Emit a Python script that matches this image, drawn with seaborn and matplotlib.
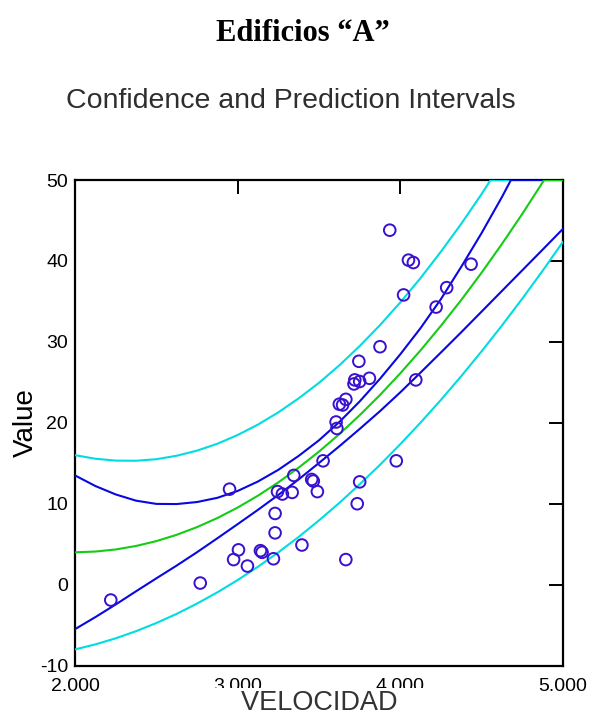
import matplotlib
matplotlib.use("Agg")
import matplotlib.pyplot as plt
import seaborn as sns
from matplotlib.ticker import FixedLocator, FuncFormatter

# ---- data ----
vel = [2.22, 2.77, 2.95, 2.975, 3.005, 3.06, 3.14, 3.15, 3.22, 3.23, 3.23, 3.245,
       3.275, 3.335, 3.345, 3.395, 3.455, 3.465, 3.49, 3.525, 3.605, 3.61, 3.625,
       3.645, 3.665, 3.665, 3.72, 3.715, 3.75, 3.745, 3.735, 3.75, 3.81, 3.875,
       3.935, 3.975, 4.02, 4.05, 4.08, 4.095, 4.22, 4.285, 4.435]
value = [-1.9, 0.2, 11.8, 3.1, 4.3, 2.3, 4.2, 4.0, 3.2, 8.8, 6.4, 11.5,
         11.2, 11.4, 13.5, 4.9, 13.0, 12.8, 11.5, 15.3, 20.1, 19.3, 22.3,
         22.2, 22.9, 3.1, 25.3, 24.8, 25.1, 27.6, 10.0, 12.7, 25.5, 29.4,
         43.8, 15.3, 35.8, 40.1, 39.8, 25.3, 34.3, 36.7, 39.6]

# fitted curve (green), clipped at the top of the frame
fit_x = [2.0, 2.125, 2.25, 2.375, 2.5, 2.625, 2.75, 2.875, 3.0, 3.125, 3.25, 3.375,
         3.5, 3.625, 3.75, 3.875, 4.0, 4.125, 4.25, 4.375, 4.5, 4.625, 4.75, 4.884, 5.0]
fit_y = [4.00, 4.09, 4.35, 4.78, 5.38, 6.16, 7.11, 8.23, 9.53, 11.00, 12.64, 14.46,
         16.44, 18.60, 20.94, 23.44, 26.12, 28.97, 32.00, 35.19, 38.56, 42.11, 45.82, 50.0, 50.0]

# confidence limits (blue)
conf_up_x = [2.0, 2.125, 2.25, 2.375, 2.5, 2.625, 2.75, 2.875, 3.0, 3.125, 3.25, 3.375,
             3.5, 3.625, 3.75, 3.875, 4.0, 4.125, 4.25, 4.375, 4.5, 4.625, 4.68, 5.0]
conf_up_y = [13.50, 12.19, 11.15, 10.38, 9.98, 9.96, 10.21, 10.73, 11.58, 12.75, 14.19, 15.91,
             17.84, 20.10, 22.64, 25.44, 28.47, 31.72, 35.30, 39.29, 43.46, 47.91, 50.0, 50.0]
conf_lo_x = [2.0, 2.125, 2.25, 2.375, 2.5, 2.625, 2.75, 2.875, 3.0, 3.125, 3.25, 3.375,
             3.5, 3.625, 3.75, 3.875, 4.0, 4.125, 4.25, 4.375, 4.5, 4.625, 4.75, 4.875, 5.0]
conf_lo_y = [-5.50, -4.01, -2.45, -0.82, 0.78, 2.36, 4.01, 5.73, 7.48, 9.25, 11.09, 13.01,
             15.04, 17.10, 19.24, 21.44, 23.77, 26.22, 28.70, 31.20, 33.75, 36.30, 38.85, 41.40, 43.97]

# prediction limits (cyan)
pred_up_x = [2.0, 2.125, 2.25, 2.375, 2.5, 2.625, 2.75, 2.875, 3.0, 3.125, 3.25, 3.375,
             3.5, 3.625, 3.75, 3.875, 4.0, 4.125, 4.25, 4.375, 4.5, 4.555, 5.0]
pred_up_y = [16.00, 15.56, 15.33, 15.31, 15.50, 15.93, 16.56, 17.41, 18.49, 19.78, 21.29, 23.02,
             24.94, 27.10, 29.48, 32.07, 34.88, 37.90, 41.16, 44.60, 48.28, 50.0, 50.0]
pred_lo_x = [2.0, 2.125, 2.25, 2.375, 2.5, 2.625, 2.75, 2.875, 3.0, 3.125, 3.25, 3.375,
             3.5, 3.625, 3.75, 3.875, 4.0, 4.125, 4.25, 4.375, 4.5, 4.625, 4.75, 4.875, 5.0]
pred_lo_y = [-8.00, -7.38, -6.63, -5.75, -4.74, -3.61, -2.34, -0.95, 0.57, 2.22, 3.99, 5.90,
             7.94, 10.10, 12.40, 14.81, 17.36, 20.04, 22.84, 25.78, 28.84, 32.03, 35.35, 38.79, 42.37]

x_ticks = [2.0, 3.0, 4.0, 5.0]
y_ticks = [-10, 0, 10, 20, 30, 40, 50]

# ---- style ----
sns.set_theme(style="white")
plt.rcParams["font.family"] = ["Liberation Sans", "DejaVu Sans"]

fig = plt.figure(figsize=(5.9, 7.18), dpi=100)
ax = fig.add_axes([75 / 590, 1 - 665.6 / 718, 488 / 590, 485.6 / 718])

CYAN = "#00dce0"
BLUE = "#0808e0"
GREEN = "#14cc14"
PT = "#3a10d0"

for xs, ys, col in [(pred_up_x, pred_up_y, CYAN), (pred_lo_x, pred_lo_y, CYAN),
                    (conf_up_x, conf_up_y, BLUE), (conf_lo_x, conf_lo_y, BLUE),
                    (fit_x, fit_y, GREEN)]:
    sns.lineplot(x=xs, y=ys, ax=ax, color=col, lw=1.5, sort=False,
                 estimator=None, zorder=3)

sns.scatterplot(x=vel, y=value, ax=ax, marker="o", s=70, facecolors="none",
                edgecolor=PT, linewidth=1.4, zorder=4)

ax.set_xlim(2, 5)
ax.set_ylim(-10, 50)
ax.xaxis.set_major_locator(FixedLocator(x_ticks))
ax.yaxis.set_major_locator(FixedLocator(y_ticks))
ax.xaxis.set_major_formatter(FuncFormatter(lambda v, p: f"{v:.3f}"))
ax.yaxis.set_major_formatter(FuncFormatter(lambda v, p: f"{v:.0f}"))

for s in ax.spines.values():
    s.set_color("black")
    s.set_linewidth(1.6)
    s.set_zorder(2.5)
ax.tick_params(axis="both", which="major", direction="in", length=10, width=1.4,
               colors="black", labelsize=14, top=True, right=True,
               labeltop=False, labelright=False)
ax.tick_params(axis="x", pad=9)
ax.tick_params(axis="y", pad=5)

ax.set_xlabel("    VELOCIDAD    ", fontsize=19.5, color="#333333",
              bbox=dict(facecolor="white", edgecolor="none", pad=1.5))
ax.xaxis.set_label_coords(0.5, -0.051)
ax.set_ylabel("Value", fontsize=20, color="black")
ax.yaxis.set_label_coords(-0.075, 0.5)

fig.text(303 / 590, 1 - 41 / 718, "Edificios “A”", ha="center", va="baseline",
         family=["Liberation Serif", "DejaVu Serif"], weight="bold", size=22,
         color="black")
fig.text(291 / 590, 1 - 108 / 718, "Confidence and Prediction Intervals",
         ha="center", va="baseline", size=20.5, color="#2e2e2e")

fig.savefig("out.png", dpi=100)
